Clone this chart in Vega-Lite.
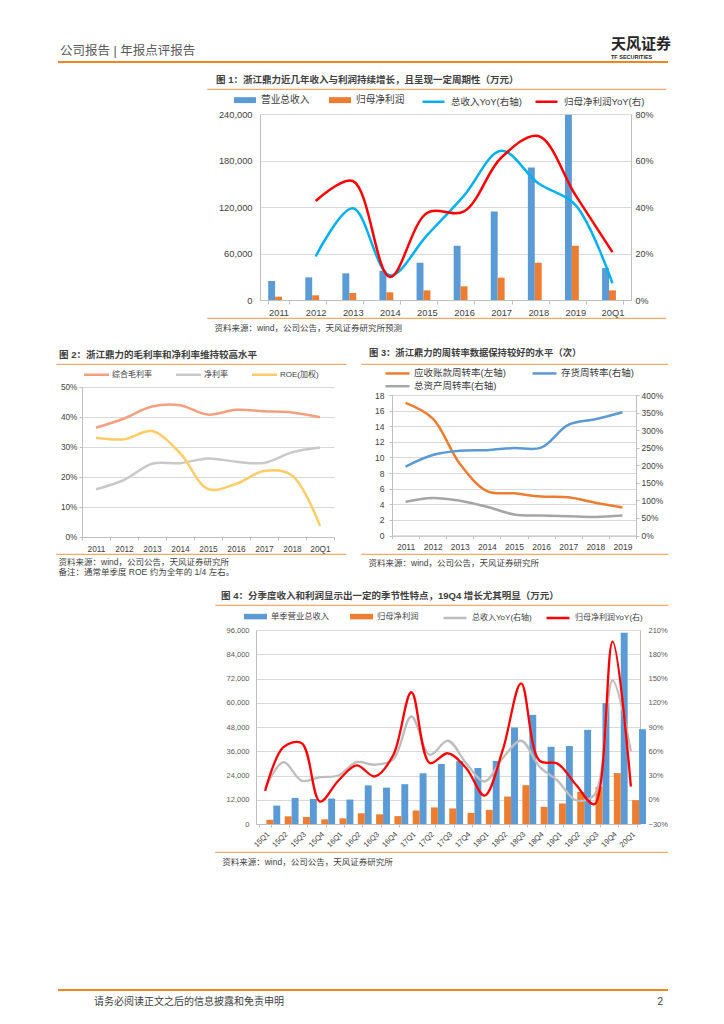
{
"$schema": "https://vega.github.io/schema/vega-lite/v6.json",
"padding": 0,
"background": "#ffffff",
"spacing": 0,
"bounds": "flush",
"resolve": {"scale": {"color": "independent", "fill": "independent", "stroke": "independent"}, "legend": {"color": "independent", "fill": "independent", "stroke": "independent"}},
"config": {
  "font": "Liberation Sans, Noto Sans CJK SC",
  "view": {"stroke": null},
  "axis": {"labelFont": "Liberation Sans, Noto Sans CJK SC", "titleFont": "Liberation Sans, Noto Sans CJK SC", "labelColor": "#595959", "domainColor": "#BFBFBF", "tickColor": "#BFBFBF", "gridColor": "#D9D9D9", "gridWidth": 1, "domainWidth": 1},
  "legend": {"labelFont": "Liberation Sans, Noto Sans CJK SC", "labelColor": "#404040", "padding": 0},
  "title": {"font": "Liberation Sans, Noto Sans CJK SC", "subtitleFont": "Liberation Sans, Noto Sans CJK SC", "color": "#404040", "fontWeight": "normal"}
},
"vconcat": [
{"width": 667, "height": 61, "data": {"values": []}, "mark": "point",
 "view": {"stroke": "#F0861E", "strokeWidth": 2, "strokeDash": [0, 728, 610, 118]},
 "title": {"text": "天风证券", "subtitle": "TF SECURITIES", "anchor": "start", "frame": "group", "dx": 610, "offset": -59, "fontSize": 15, "fontWeight": "bold", "color": "#262626", "subtitleFontSize": 5.5, "subtitleColor": "#262626", "subtitleFontWeight": "bold", "subtitlePadding": 3}},

{"width": 667, "height": 27, "data": {"values": []}, "mark": "point",
 "title": {"text": "公司报告 | 年报点评报告", "anchor": "start", "frame": "group", "dx": 59, "offset": 5, "fontSize": 12.5, "fontWeight": "normal", "color": "#595959"}},

{"width": 667, "height": 229,
 "view": {"stroke": "#F5A965", "strokeWidth": 1.2, "strokeDash": [0, 206, 459, 233, 459, 435]},
 "title": {"text": "图 1：浙江鼎力近几年收入与利润持续增长，且呈现一定周期性（万元）", "anchor": "start", "frame": "group", "dx": 215, "offset": 5, "fontSize": 9.5, "fontWeight": "bold", "color": "#404040"},
 "data": {"values": [
  {"p":"2011","s":"营业总收入","v":24500},{"p":"2012","s":"营业总收入","v":29200},{"p":"2013","s":"营业总收入","v":34400},{"p":"2014","s":"营业总收入","v":37800},{"p":"2015","s":"营业总收入","v":48100},{"p":"2016","s":"营业总收入","v":70000},{"p":"2017","s":"营业总收入","v":114200},{"p":"2018","s":"营业总收入","v":170900},{"p":"2019","s":"营业总收入","v":239000},{"p":"20Q1","s":"营业总收入","v":41200},
  {"p":"2011","s":"归母净利润","v":4300},{"p":"2012","s":"归母净利润","v":6000},{"p":"2013","s":"归母净利润","v":9000},{"p":"2014","s":"归母净利润","v":9900},{"p":"2015","s":"归母净利润","v":12450},{"p":"2016","s":"归母净利润","v":17600},{"p":"2017","s":"归母净利润","v":28800},{"p":"2018","s":"归母净利润","v":48100},{"p":"2019","s":"归母净利润","v":70000},{"p":"20Q1","s":"归母净利润","v":12450},
  {"p":"2012","s":"总收入YoY(右轴)","v":0.187},{"p":"2013","s":"总收入YoY(右轴)","v":0.395},{"p":"2014","s":"总收入YoY(右轴)","v":0.106},{"p":"2015","s":"总收入YoY(右轴)","v":0.278},{"p":"2016","s":"总收入YoY(右轴)","v":0.449},{"p":"2017","s":"总收入YoY(右轴)","v":0.642},{"p":"2018","s":"总收入YoY(右轴)","v":0.502},{"p":"2019","s":"总收入YoY(右轴)","v":0.409},{"p":"20Q1","s":"总收入YoY(右轴)","v":0.072},
  {"p":"2012","s":"归母净利润YoY(右)","v":0.426},{"p":"2013","s":"归母净利润YoY(右)","v":0.512},{"p":"2014","s":"归母净利润YoY(右)","v":0.099},{"p":"2015","s":"归母净利润YoY(右)","v":0.374},{"p":"2016","s":"归母净利润YoY(右)","v":0.381},{"p":"2017","s":"归母净利润YoY(右)","v":0.612},{"p":"2018","s":"归母净利润YoY(右)","v":0.705},{"p":"2019","s":"归母净利润YoY(右)","v":0.452},{"p":"20Q1","s":"归母净利润YoY(右)","v":0.206}
 ]},
 "encoding": {
  "x": {"field": "p", "type": "ordinal", "scale": {"type": "band", "domain": ["2011","2012","2013","2014","2015","2016","2017","2018","2019","20Q1"], "range": [259, 630], "paddingInner": 0.44, "paddingOuter": 0.22},
        "axis": {"orient": "bottom", "offset": -18, "labelAngle": 0, "labelFontSize": 9.3, "labelColor": "#404040", "labelPadding": 4, "tickBand": "extent", "tickSize": 4, "grid": false,
                 "title": "资料来源：wind，公司公告，天风证券研究所预测", "titleX": 213, "titleY": 27.7, "titleAlign": "left", "titleBaseline": "middle", "titleFontSize": 8.5, "titleFontWeight": "normal", "titleColor": "#404040"}}
 },
 "layer": [
  {"transform": [{"filter": {"field": "s", "oneOf": ["营业总收入","归母净利润"]}}],
   "mark": {"type": "bar"},
   "encoding": {
     "xOffset": {"field": "s", "type": "nominal", "scale": {"domain": ["营业总收入","归母净利润"]}},
     "y": {"field": "v", "type": "quantitative", "scale": {"domain": [0, 240000], "nice": false, "range": [211, 25]},
           "axis": {"orient": "left", "offset": -259, "title": null, "values": [0,60000,120000,180000,240000], "format": ",.0f", "grid": true, "ticks": false, "labelPadding": 8, "labelFontSize": 9.3, "labelColor": "#404040"}},
     "fill": {"field": "s", "type": "nominal", "scale": {"domain": ["营业总收入","归母净利润"], "range": ["#5B9BD5","#ED7D31"]},
           "legend": {"orient": "none", "legendX": 233, "legendY": 0, "direction": "horizontal", "title": null, "labelFontSize": 9.7, "labelOffset": 5, "columnPadding": 19, "symbolSize": 484, "symbolType": "M-1,-0.27H1V0.27H-1Z", "symbolStrokeWidth": 0}}}},
  {"transform": [{"filter": {"field": "s", "oneOf": ["总收入YoY(右轴)","归母净利润YoY(右)"]}}],
   "mark": {"type": "line", "interpolate": "catmull-rom", "strokeWidth": 2.5},
   "encoding": {
     "y": {"field": "v", "type": "quantitative", "scale": {"domain": [0, 0.8], "nice": false, "range": [211, 25]},
           "axis": {"orient": "right", "offset": -37, "title": null, "values": [0,0.2,0.4,0.6,0.8], "format": ".0%", "grid": false, "ticks": false, "labelPadding": 4, "labelFontSize": 9, "labelColor": "#404040"}},
     "stroke": {"field": "s", "type": "nominal", "scale": {"domain": ["总收入YoY(右轴)","归母净利润YoY(右)"], "range": ["#00B0F0","#FF0000"]},
           "legend": {"orient": "none", "legendX": 420, "legendY": 0, "direction": "horizontal", "title": null, "labelFontSize": 9.5, "labelOffset": 5, "columnPadding": 8, "symbolSize": 484, "symbolType": "stroke", "symbolStrokeWidth": 2.5}}}}
 ],
 "resolve": {"scale": {"y": "independent"}}
},

{"width": 667, "height": 46, "data": {"values": []}, "mark": "point",
 "title": {"text": "图 3：浙江鼎力的周转率数据保持较好的水平（次）", "orient": "bottom", "anchor": "start", "frame": "group", "dx": 368, "offset": -15, "fontSize": 9.3, "fontWeight": "bold", "color": "#404040"}},

{"width": 667, "height": 190,
 "view": {"stroke": "#F5A965", "strokeWidth": 1.2, "strokeDash": [0, 55, 290, 15, 307, 190, 307, 15, 290, 245]},
 "title": {"text": "图 2：浙江鼎力的毛利率和净利率维持较高水平", "anchor": "start", "frame": "group", "dx": 58, "offset": 5, "fontSize": 9.5, "fontWeight": "bold", "color": "#404040"},
 "layer": [
  {"data": {"values": [
    {"p":"2011","s":"综合毛利率","v":0.364},{"p":"2012","s":"综合毛利率","v":0.395},{"p":"2013","s":"综合毛利率","v":0.435},{"p":"2014","s":"综合毛利率","v":0.439},{"p":"2015","s":"综合毛利率","v":0.408},{"p":"2016","s":"综合毛利率","v":0.424},{"p":"2017","s":"综合毛利率","v":0.419},{"p":"2018","s":"综合毛利率","v":0.415},{"p":"20Q1","s":"综合毛利率","v":0.399},
    {"p":"2011","s":"净利率","v":0.159},{"p":"2012","s":"净利率","v":0.19},{"p":"2013","s":"净利率","v":0.244},{"p":"2014","s":"净利率","v":0.246},{"p":"2015","s":"净利率","v":0.262},{"p":"2016","s":"净利率","v":0.251},{"p":"2017","s":"净利率","v":0.247},{"p":"2018","s":"净利率","v":0.282},{"p":"20Q1","s":"净利率","v":0.298},
    {"p":"2011","s":"ROE(加权)","v":0.331},{"p":"2012","s":"ROE(加权)","v":0.326},{"p":"2013","s":"ROE(加权)","v":0.353},{"p":"2014","s":"ROE(加权)","v":0.28},{"p":"2015","s":"ROE(加权)","v":0.16},{"p":"2016","s":"ROE(加权)","v":0.177},{"p":"2017","s":"ROE(加权)","v":0.22},{"p":"2018","s":"ROE(加权)","v":0.205},{"p":"20Q1","s":"ROE(加权)","v":0.037}
   ]},
   "mark": {"type": "line", "interpolate": "catmull-rom", "strokeWidth": 2.5},
   "encoding": {
    "x": {"field": "p", "type": "ordinal", "scale": {"type": "band", "domain": ["2011","2012","2013","2014","2015","2016","2017","2018","20Q1"], "range": [81, 333], "paddingInner": 0, "paddingOuter": 0},
          "axis": {"orient": "bottom", "offset": -17, "labelAngle": 0, "labelFontSize": 8.3, "labelColor": "#404040", "labelPadding": 4, "tickBand": "extent", "tickSize": 3, "grid": false,
                   "title": ["资料来源：wind，公司公告，天风证券研究所", "备注：通常单季度 ROE 约为全年的 1/4 左右。"], "titleX": 57, "titleY": 20.2, "titleAlign": "left", "titleBaseline": "top", "titleLineHeight": 10, "titleFontSize": 8.5, "titleFontWeight": "normal", "titleColor": "#404040"}},
    "y": {"field": "v", "type": "quantitative", "scale": {"domain": [0, 0.5], "nice": false, "range": [173, 23]},
          "axis": {"orient": "left", "offset": -81, "title": null, "values": [0,0.1,0.2,0.3,0.4,0.5], "format": ".0%", "grid": true, "ticks": true, "tickSize": 3, "labelPadding": 2, "labelFontSize": 8.3, "labelColor": "#404040"}},
    "stroke": {"field": "s", "type": "nominal",
          "scale": {"domain": ["综合毛利率","净利率","ROE(加权)"], "range": ["#F4A07E","#C9C9C9","#FFCC66"]},
          "legend": {"orient": "none", "legendX": 88, "legendY": 3, "direction": "horizontal", "title": null, "labelFontSize": 8, "labelOffset": 8, "columnPadding": 19, "symbolType": "M-2,0H2", "symbolSize": 156, "symbolStrokeWidth": 2.5}}
   }},
  {"data": {"values": [
    {"p":"2011","s":"应收账款周转率(左轴)","v":17.0},{"p":"2012","s":"应收账款周转率(左轴)","v":15.0},{"p":"2013","s":"应收账款周转率(左轴)","v":9.2},{"p":"2014","s":"应收账款周转率(左轴)","v":5.7},{"p":"2015","s":"应收账款周转率(左轴)","v":5.4},{"p":"2016","s":"应收账款周转率(左轴)","v":5.0},{"p":"2017","s":"应收账款周转率(左轴)","v":4.9},{"p":"2018","s":"应收账款周转率(左轴)","v":4.2},{"p":"2019","s":"应收账款周转率(左轴)","v":3.6},
    {"p":"2011","s":"存货周转率(右轴)","v":1.96},{"p":"2012","s":"存货周转率(右轴)","v":2.29},{"p":"2013","s":"存货周转率(右轴)","v":2.41},{"p":"2014","s":"存货周转率(右轴)","v":2.43},{"p":"2015","s":"存货周转率(右轴)","v":2.49},{"p":"2016","s":"存货周转率(右轴)","v":2.5},{"p":"2017","s":"存货周转率(右轴)","v":3.15},{"p":"2018","s":"存货周转率(右轴)","v":3.31},{"p":"2019","s":"存货周转率(右轴)","v":3.51},
    {"p":"2011","s":"总资产周转率(右轴)","v":0.96},{"p":"2012","s":"总资产周转率(右轴)","v":1.07},{"p":"2013","s":"总资产周转率(右轴)","v":0.99},{"p":"2014","s":"总资产周转率(右轴)","v":0.82},{"p":"2015","s":"总资产周转率(右轴)","v":0.6},{"p":"2016","s":"总资产周转率(右轴)","v":0.57},{"p":"2017","s":"总资产周转率(右轴)","v":0.55},{"p":"2018","s":"总资产周转率(右轴)","v":0.53},{"p":"2019","s":"总资产周转率(右轴)","v":0.57}
   ]},
   "encoding": {
    "x": {"field": "p", "type": "ordinal", "scale": {"type": "band", "domain": ["2011","2012","2013","2014","2015","2016","2017","2018","2019"], "range": [391, 635], "paddingInner": 0, "paddingOuter": 0},
          "axis": {"orient": "bottom", "offset": -18.5, "labelAngle": 0, "labelFontSize": 8.5, "labelColor": "#404040", "labelPadding": 4, "tickBand": "extent", "tickSize": 3, "grid": false,
                   "title": "资料来源：wind，公司公告，天风证券研究所", "titleX": 367, "titleY": 27.2, "titleAlign": "left", "titleBaseline": "middle", "titleFontSize": 8.5, "titleFontWeight": "normal", "titleColor": "#404040"}},
    "stroke": {"field": "s", "type": "nominal",
          "scale": {"domain": ["应收账款周转率(左轴)","存货周转率(右轴)","总资产周转率(右轴)"], "range": ["#ED7D31","#5B9BD5","#A5A5A5"]},
          "legend": {"orient": "none", "legendX": 389, "legendY": 1.7, "direction": "horizontal", "columns": 2, "title": null, "labelFontSize": 9.5, "labelOffset": 9, "columnPadding": 21, "rowPadding": 0, "symbolType": "M-2,0H2", "symbolSize": 144, "symbolStrokeWidth": 2.5}}
   },
   "layer": [
    {"transform": [{"filter": {"field": "s", "equal": "应收账款周转率(左轴)"}}],
     "mark": {"type": "line", "interpolate": "catmull-rom", "strokeWidth": 2.5},
     "encoding": {"y": {"field": "v", "type": "quantitative", "scale": {"domain": [0, 18], "nice": false, "range": [171.5, 31]},
         "axis": {"orient": "left", "offset": -391, "title": null, "values": [0,2,4,6,8,10,12,14,16,18], "grid": true, "ticks": true, "tickSize": 3, "labelPadding": 5, "labelFontSize": 8.5, "labelColor": "#404040"}}}},
    {"transform": [{"filter": {"field": "s", "oneOf": ["存货周转率(右轴)","总资产周转率(右轴)"]}}],
     "mark": {"type": "line", "interpolate": "catmull-rom", "strokeWidth": 2.5},
     "encoding": {"y": {"field": "v", "type": "quantitative", "scale": {"domain": [0, 4], "nice": false, "range": [171.5, 31]},
         "axis": {"orient": "right", "offset": -32, "title": null, "values": [0,0.5,1,1.5,2,2.5,3,3.5,4], "format": ".0%", "grid": false, "ticks": true, "tickSize": 3, "labelPadding": 2, "labelFontSize": 8.5, "labelColor": "#404040"}}}}
   ],
   "resolve": {"scale": {"y": "independent"}}
  }
 ],
 "resolve": {"scale": {"x": "independent", "y": "independent", "stroke": "independent"}, "legend": {"stroke": "independent"}}
},

{"width": 667, "height": 51, "data": {"values": []}, "mark": "point"},

{"width": 667, "height": 247,
 "view": {"stroke": "#F5A965", "strokeWidth": 1.2, "strokeDash": [0, 214, 453, 247, 453, 461]},
 "title": {"text": "图 4：分季度收入和利润显示出一定的季节性特点，19Q4 增长尤其明显（万元）", "anchor": "start", "frame": "group", "dx": 220, "offset": 5, "fontSize": 9.5, "fontWeight": "bold", "color": "#404040"},
 "data": {"values": [
  {"p":"15Q1","s":"单季营业总收入","v":9100},{"p":"15Q2","s":"单季营业总收入","v":12900},{"p":"15Q3","s":"单季营业总收入","v":12400},{"p":"15Q4","s":"单季营业总收入","v":12600},{"p":"16Q1","s":"单季营业总收入","v":12100},{"p":"16Q2","s":"单季营业总收入","v":19100},{"p":"16Q3","s":"单季营业总收入","v":18000},{"p":"16Q4","s":"单季营业总收入","v":19700},{"p":"17Q1","s":"单季营业总收入","v":25100},{"p":"17Q2","s":"单季营业总收入","v":29700},{"p":"17Q3","s":"单季营业总收入","v":31100},{"p":"17Q4","s":"单季营业总收入","v":27700},{"p":"18Q1","s":"单季营业总收入","v":31200},{"p":"18Q2","s":"单季营业总收入","v":47800},{"p":"18Q3","s":"单季营业总收入","v":54000},{"p":"18Q4","s":"单季营业总收入","v":38200},{"p":"19Q1","s":"单季营业总收入","v":38600},{"p":"19Q2","s":"单季营业总收入","v":46600},{"p":"19Q3","s":"单季营业总收入","v":59800},{"p":"19Q4","s":"单季营业总收入","v":94600},{"p":"20Q1","s":"单季营业总收入","v":46900},
  {"p":"15Q1","s":"归母净利润","v":2100},{"p":"15Q2","s":"归母净利润","v":3800},{"p":"15Q3","s":"归母净利润","v":3500},{"p":"15Q4","s":"归母净利润","v":2300},{"p":"16Q1","s":"归母净利润","v":2800},{"p":"16Q2","s":"归母净利润","v":5300},{"p":"16Q3","s":"归母净利润","v":4800},{"p":"16Q4","s":"归母净利润","v":3900},{"p":"17Q1","s":"归母净利润","v":6700},{"p":"17Q2","s":"归母净利润","v":8200},{"p":"17Q3","s":"归母净利润","v":7700},{"p":"17Q4","s":"归母净利润","v":5500},{"p":"18Q1","s":"归母净利润","v":7000},{"p":"18Q2","s":"归母净利润","v":13600},{"p":"18Q3","s":"归母净利润","v":19200},{"p":"18Q4","s":"归母净利润","v":8500},{"p":"19Q1","s":"归母净利润","v":10150},{"p":"19Q2","s":"归母净利润","v":15900},{"p":"19Q3","s":"归母净利润","v":18300},{"p":"19Q4","s":"归母净利润","v":25200},{"p":"20Q1","s":"归母净利润","v":11800},
  {"p":"15Q1","s":"总收入YoY(右轴)","v":0.14},{"p":"15Q2","s":"总收入YoY(右轴)","v":0.466},{"p":"15Q3","s":"总收入YoY(右轴)","v":0.234},{"p":"15Q4","s":"总收入YoY(右轴)","v":0.28},{"p":"16Q1","s":"总收入YoY(右轴)","v":0.3},{"p":"16Q2","s":"总收入YoY(右轴)","v":0.466},{"p":"16Q3","s":"总收入YoY(右轴)","v":0.433},{"p":"16Q4","s":"总收入YoY(右轴)","v":0.5},{"p":"17Q1","s":"总收入YoY(右轴)","v":1.03},{"p":"17Q2","s":"总收入YoY(右轴)","v":0.557},{"p":"17Q3","s":"总收入YoY(右轴)","v":0.73},{"p":"17Q4","s":"总收入YoY(右轴)","v":0.45},{"p":"18Q1","s":"总收入YoY(右轴)","v":0.226},{"p":"18Q2","s":"总收入YoY(右轴)","v":0.516},{"p":"18Q3","s":"总收入YoY(右轴)","v":0.73},{"p":"18Q4","s":"总收入YoY(右轴)","v":0.41},{"p":"19Q1","s":"总收入YoY(右轴)","v":0.234},{"p":"19Q2","s":"总收入YoY(右轴)","v":-0.006},{"p":"19Q3","s":"总收入YoY(右轴)","v":0.06},{"p":"19Q4","s":"总收入YoY(右轴)","v":1.476},{"p":"20Q1","s":"总收入YoY(右轴)","v":0.6},
  {"p":"15Q1","s":"归母净利润YoY(右)","v":0.11},{"p":"15Q2","s":"归母净利润YoY(右)","v":0.65},{"p":"15Q3","s":"归母净利润YoY(右)","v":0.7},{"p":"15Q4","s":"归母净利润YoY(右)","v":-0.022},{"p":"16Q1","s":"归母净利润YoY(右)","v":0.235},{"p":"16Q2","s":"归母净利润YoY(右)","v":0.425},{"p":"16Q3","s":"归母净利润YoY(右)","v":0.288},{"p":"16Q4","s":"归母净利润YoY(右)","v":0.55},{"p":"17Q1","s":"归母净利润YoY(右)","v":1.33},{"p":"17Q2","s":"归母净利润YoY(右)","v":0.454},{"p":"17Q3","s":"归母净利润YoY(右)","v":0.575},{"p":"17Q4","s":"归母净利润YoY(右)","v":0.39},{"p":"18Q1","s":"归母净利润YoY(右)","v":0.052},{"p":"18Q2","s":"归母净利润YoY(右)","v":0.62},{"p":"18Q3","s":"归母净利润YoY(右)","v":1.44},{"p":"18Q4","s":"归母净利润YoY(右)","v":0.483},{"p":"19Q1","s":"归母净利润YoY(右)","v":0.446},{"p":"19Q2","s":"归母净利润YoY(右)","v":0.185},{"p":"19Q3","s":"归母净利润YoY(右)","v":-0.056},{"p":"19Q4","s":"归母净利润YoY(右)","v":1.956},{"p":"20Q1","s":"归母净利润YoY(右)","v":0.164}
 ]},
 "encoding": {
  "x": {"field": "p", "type": "ordinal", "scale": {"type": "band", "domain": ["15Q1","15Q2","15Q3","15Q4","16Q1","16Q2","16Q3","16Q4","17Q1","17Q2","17Q3","17Q4","18Q1","18Q2","18Q3","18Q4","19Q1","19Q2","19Q3","19Q4","20Q1"], "range": [255, 639], "paddingInner": 0.38, "paddingOuter": 0.19},
        "axis": {"orient": "bottom", "offset": -28, "labelAngle": -45, "labelFontSize": 7.5, "labelColor": "#404040", "labelPadding": 3, "tickBand": "extent", "tickSize": 3, "grid": false,
                 "title": "资料来源：wind，公司公告，天风证券研究所", "titleX": 220.7, "titleY": 37, "titleAlign": "left", "titleBaseline": "middle", "titleFontSize": 8.5, "titleFontWeight": "normal", "titleColor": "#404040"}}
 },
 "layer": [
  {"transform": [{"filter": {"field": "s", "oneOf": ["单季营业总收入","归母净利润"]}}],
   "mark": {"type": "bar"},
   "encoding": {
     "xOffset": {"field": "s", "type": "nominal", "scale": {"domain": ["单季营业总收入","归母净利润"]}},
     "y": {"field": "v", "type": "quantitative", "scale": {"domain": [0, 96000], "nice": false, "range": [219, 25]},
           "axis": {"orient": "left", "offset": -255, "title": null, "values": [0,12000,24000,36000,48000,60000,72000,84000,96000], "format": ",.0f", "grid": true, "ticks": false, "labelPadding": 7, "labelFontSize": 7.5, "labelColor": "#595959"}},
     "fill": {"field": "s", "type": "nominal", "scale": {"domain": ["单季营业总收入","归母净利润"], "range": ["#5B9BD5","#ED7D31"]},
           "legend": {"orient": "none", "legendX": 243, "legendY": 0, "direction": "horizontal", "title": null, "labelFontSize": 8.3, "labelOffset": 4, "columnPadding": 20, "symbolSize": 529, "symbolType": "M-1,-0.24H1V0.24H-1Z", "symbolStrokeWidth": 0}}}},
  {"transform": [{"filter": {"field": "s", "oneOf": ["总收入YoY(右轴)","归母净利润YoY(右)"]}}],
   "mark": {"type": "line", "interpolate": "catmull-rom", "strokeWidth": 2.3},
   "encoding": {
     "y": {"field": "v", "type": "quantitative", "scale": {"domain": [-0.3, 2.1], "nice": false, "zero": false, "range": [219, 25]},
           "axis": {"orient": "right", "offset": -28, "title": null, "values": [-0.3,0,0.3,0.6,0.9,1.2,1.5,1.8,2.1], "format": ".0%", "grid": false, "ticks": false, "labelPadding": 8, "labelFontSize": 7.5, "labelColor": "#595959"}},
     "stroke": {"field": "s", "type": "nominal", "scale": {"domain": ["总收入YoY(右轴)","归母净利润YoY(右)"], "range": ["#BDBDBD","#FF0000"]},
           "legend": {"orient": "none", "legendX": 441, "legendY": 0, "direction": "horizontal", "title": null, "labelFontSize": 8, "labelOffset": 4, "columnPadding": 9, "symbolSize": 529, "symbolType": "stroke", "symbolStrokeWidth": 2.5}}}}
 ],
 "resolve": {"scale": {"y": "independent"}}
},

{"width": 667, "height": 138, "data": {"values": []}, "mark": "point",
 "title": {"text": "2", "orient": "bottom", "anchor": "end", "frame": "group", "dx": -5, "offset": 7, "fontSize": 10, "fontWeight": "normal", "color": "#404040"}},

{"width": 667, "height": 35, "data": {"values": []}, "mark": "point",
 "view": {"stroke": "#F0861E", "strokeWidth": 2, "strokeDash": [0, 57, 610, 737]},
 "title": {"text": "请务必阅读正文之后的信息披露和免责申明", "anchor": "start", "frame": "group", "dx": 93, "offset": -17, "fontSize": 10, "fontWeight": "normal", "color": "#404040"}}
]
}
